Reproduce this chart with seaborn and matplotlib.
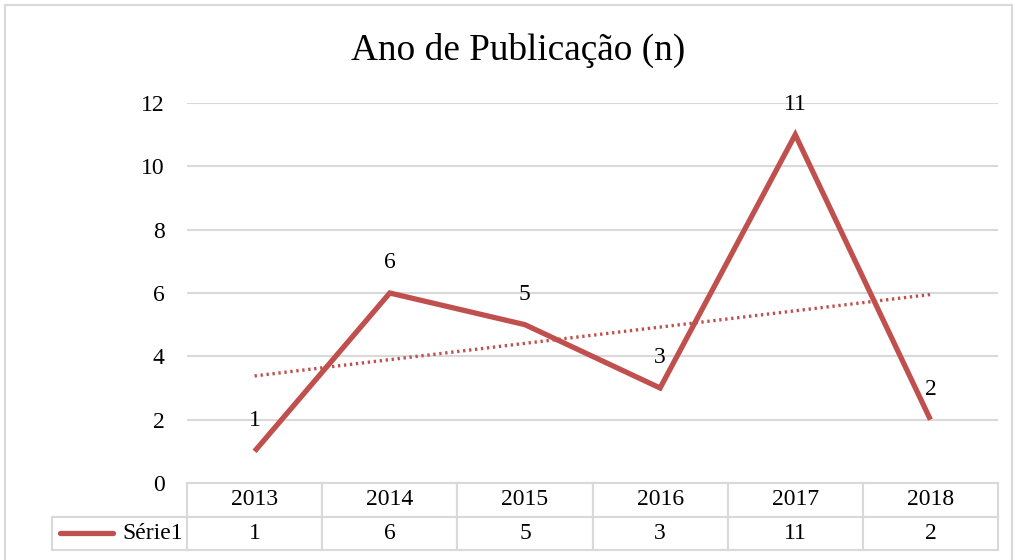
import numpy as np
import pandas as pd
import matplotlib
matplotlib.use("Agg")
import matplotlib.pyplot as plt
from matplotlib.lines import Line2D
from matplotlib.patches import Rectangle
import seaborn as sns

# data
anos = ["2013", "2014", "2015", "2016", "2017", "2018"]
valores = [1, 6, 5, 3, 11, 2]
serie = "Série1"
titulo = "Ano de Publicação (n)"

cor = "#C0504D"
cinza = "#D9D9D9"

sns.set_style("white")
plt.rcParams["font.family"] = ["Liberation Serif", "DejaVu Serif"]
plt.rcParams["text.color"] = "black"
plt.rcParams["ytick.color"] = "black"

df = pd.DataFrame({"pos": np.arange(len(anos)), "n": valores})

fig = plt.figure(figsize=(10.15, 5.6), dpi=100)
ax = fig.add_axes([187 / 1015, 1 - 483 / 560, 811 / 1015, 380 / 560])

# outer chart border
fig.patches.append(Rectangle((5 / 1015, -0.05), 1007 / 1015, 1 - 5 / 560 + 0.05,
                             transform=fig.transFigure, fill=False,
                             edgecolor=cinza, lw=1.5))

sns.lineplot(data=df, x="pos", y="n", ax=ax, color=cor, lw=3.8,
             solid_capstyle="butt", solid_joinstyle="miter", zorder=3)

# linear trendline
coef = np.polyfit(df["pos"], df["n"], 1)
ax.plot(df["pos"], np.polyval(coef, df["pos"]), ls=(0, (0.7, 1.1)),
        color=cor, lw=2.4, zorder=2)

for p, v in zip(df["pos"], df["n"]):
    ax.annotate(str(v), (p, v), xytext=(0, 22), textcoords="offset points",
                ha="center", va="center", fontsize=17, color="black")

ax.set_xlim(-0.5, len(anos) - 0.5)
ax.set_ylim(0, 12)
ax.set_yticks(range(0, 13, 2))
ax.set_xticks([])
ax.set_xlabel("")
ax.set_ylabel("")
ax.tick_params(axis="y", length=0, pad=16, labelsize=17, labelcolor="black")
ax.grid(axis="y", color=cinza, lw=1.5)
ax.set_axisbelow(True)
for s in ax.spines.values():
    s.set_visible(False)

fig.text(518 / 1015, 1 - 50 / 560, titulo, ha="center", va="center",
         fontsize=26.8, color="black")

# data table
tab = ax.table(cellText=[[""] + anos, [serie] + [str(v) for v in valores]],
               cellLoc="center",
               bbox=[(52 - 187) / 811, -67 / 380, 946 / 811, 67 / 380])
tab.auto_set_font_size(False)
w0 = 135 / 946
for (r, c), cell in tab.get_celld().items():
    cell.set_edgecolor(cinza)
    cell.set_linewidth(1.5)
    cell.get_text().set_fontsize(17)
    cell.get_text().set_color("black")
    cell.set_width(w0)
    cell.set_height(0.5)
    if r == 0 and c == 0:
        cell.visible_edges = "B"
    if r == 1 and c == 0:
        cell.get_text().set_ha("right")
        cell.PAD = 0.03

# legend key inside Série1 cell
ax.add_line(Line2D([(60 - 187) / 811, (113 - 187) / 811],
                   [-50 / 380, -50 / 380], transform=ax.transAxes,
                   color=cor, lw=3.8, solid_capstyle="round", clip_on=False))

fig.savefig("out.png", dpi=100)
